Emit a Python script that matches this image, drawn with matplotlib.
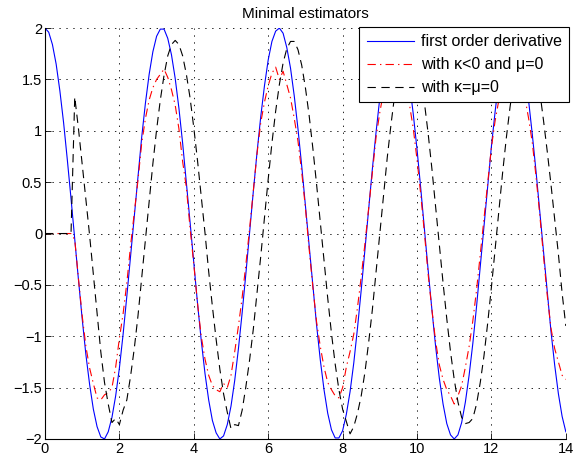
import numpy as np
import matplotlib
matplotlib.use("Agg")
import matplotlib.pyplot as plt

plt.rcParams['font.family'] = ['Liberation Sans', 'DejaVu Sans']
plt.rcParams['lines.scale_dashes'] = False

# time axis, 0..14 every 0.1
t = np.linspace(0, 14, 141)

# first order derivative (blue)
deriv = [2.00, 1.96, 1.84, 1.65, 1.39, 1.08, 0.72, 0.34, -0.06, -0.45, -0.83, -1.18, -1.47, -1.71, -1.88, -1.98,
         -2.00, -1.93, -1.79, -1.58, -1.31, -0.98, -0.61, -0.22, 0.18, 0.57, 0.94, 1.27, 1.55, 1.77, 1.92, 1.99,
         1.99, 1.90, 1.74, 1.51, 1.22, 0.88, 0.50, 0.11, -0.29, -0.68, -1.04, -1.36, -1.62, -1.82, -1.94, -2.00,
         -1.97, -1.86, -1.68, -1.43, -1.12, -0.77, -0.39, 0.01, 0.41, 0.79, 1.14, 1.44, 1.69, 1.87, 1.97, 2.00,
         1.95, 1.81, 1.61, 1.34, 1.02, 0.66, 0.27, -0.13, -0.52, -0.89, -1.23, -1.52, -1.75, -1.91, -1.99, -1.99,
         -1.92, -1.76, -1.54, -1.26, -0.92, -0.55, -0.16, 0.24, 0.63, 0.99, 1.32, 1.59, 1.80, 1.94, 2.00, 1.98,
         1.88, 1.70, 1.46, 1.16, 0.82, 0.44, 0.04, -0.36, -0.74, -1.10, -1.41, -1.66, -1.85, -1.96, -2.00, -1.96,
         -1.84, -1.64, -1.38, -1.07, -0.71, -0.32, 0.08, 0.47, 0.85, 1.19, 1.49, 1.72, 1.89, 1.98, 2.00, 1.93,
         1.79, 1.57, 1.29, 0.96, 0.60, 0.21, -0.19, -0.58, -0.95, -1.28, -1.56, -1.78, -1.93]

# estimator with kappa<0 and mu=0 (red)
est_kneg = [0, 0, 0, 0, 0, 0, 0, 0,
            -0.06, -0.44, -0.80, -1.10, -1.31, -1.46, -1.60, -1.62, -1.57, -1.55, -1.50, -1.30, -1.02, -0.78,
            -0.48, -0.12, 0.20, 0.52, 0.88, 1.12, 1.30, 1.42, 1.50, 1.55,
            1.60, 1.52, 1.40, 1.25, 1.02, 0.70, 0.45, 0.05, -0.30, -0.68, -1.00, -1.22, -1.38, -1.48, -1.52, -1.54,
            -1.46, -1.50, -1.38, -1.15, -0.90, -0.62, -0.30, 0.05, 0.42, 0.78, 1.08, 1.28, 1.44, 1.56, 1.62, 1.50,
            1.58, 1.45, 1.32, 1.12, 0.90, 0.60, 0.25, -0.15, -0.52, -0.86, -1.10, -1.30, -1.45, -1.52, -1.58, -1.60,
            -1.50, -1.30, -1.15, -0.98, -0.72, -0.42, -0.10, 0.25, 0.60, 0.94, 1.18, 1.38, 1.50, 1.57, 1.60, 1.55,
            1.54, 1.42, 1.25, 1.02, 0.72, 0.38, 0.00, -0.40, -0.74, -1.05, -1.28, -1.42, -1.52, -1.58, -1.66, -1.58,
            -1.48, -1.30, -1.10, -0.85, -0.55, -0.20, 0.15, 0.50, 0.84, 1.10, 1.30, 1.45, 1.55, 1.60, 1.58, 1.55,
            1.48, 1.32, 1.12, 0.88, 0.55, 0.18, -0.22, -0.60, -0.92, -1.12, -1.25, -1.38, -1.42]

# estimator with kappa=mu=0 (black)
est_k0 = [0, 0, 0, 0, 0, 0, 0, 0,
          1.33, 1.02, 0.68, 0.33, -0.02, -0.40, -0.78, -1.15, -1.45, -1.66, -1.84, -1.80, -1.86, -1.72,
          -1.62, -1.39, -1.12, -0.80, -0.43, -0.06, 0.32, 0.68, 1.01, 1.30,
          1.54, 1.73, 1.84, 1.88, 1.84, 1.73, 1.55, 1.32, 1.03, 0.71, 0.36, 0.01, -0.37, -0.71, -1.03, -1.32,
          -1.56, -1.74, -1.90, -1.86, -1.87, -1.72, -1.49, -1.23, -0.93, -0.58, -0.22, 0.16, 0.53, 0.88, 1.19, 1.45,
          1.66, 1.80, 1.87, 1.87, 1.79, 1.64, 1.42, 1.15, 0.83, 0.48, 0.11, -0.27, -0.63, -0.97, -1.27, -1.52,
          -1.71, -1.83, -1.95, -1.88, -1.75, -1.58, -1.35, -1.06, -0.74, -0.37, 0.00, 0.38, 0.74, 1.06, 1.35, 1.58,
          1.75, 1.85, 1.88, 1.83, 1.71, 1.52, 1.27, 0.97, 0.63, 0.26, -0.11, -0.48, -0.83, -1.15, -1.42, -1.64,
          -1.79, -1.85, -1.84, -1.80, -1.66, -1.45, -1.19, -0.87, -0.52, -0.15, 0.22, 0.59, 0.93, 1.23, 1.49, 1.69,
          1.82, 1.88, 1.86, 1.77, 1.61, 1.38, 1.10, 0.80, 0.48, 0.14, -0.20, -0.58, -0.90]

labels = ['first order derivative', 'with \u03ba<0 and \u03bc=0', 'with \u03ba=\u03bc=0']

fig = plt.figure(figsize=(5.73, 4.68), dpi=100)
ax = fig.add_axes([0.0785, 0.062, 0.909, 0.878])

ax.plot(t, deriv, color='blue', lw=0.8, label=labels[0])
ax.plot(t, est_kneg, color='red', lw=0.8, dashes=(6, 3, 1, 3), label=labels[1])
ax.plot(t, est_k0, color='black', lw=0.8, dashes=(6, 4), label=labels[2])

ax.set_xlim(0, 14)
ax.set_ylim(-2, 2)
ax.set_xticks(range(0, 15, 2))
ax.set_yticks([-2, -1.5, -1, -0.5, 0, 0.5, 1, 1.5, 2])
ax.set_yticklabels(['\u22122', '\u22121.5', '\u22121', '\u22120.5', '0', '0.5', '1', '1.5', '2'])
ax.tick_params(direction='in', length=4, width=0.6, labelsize=10.5, pad=2)
ax.grid(True, color='black', linestyle=(0, (1, 4)), linewidth=0.6)
ax.spines['top'].set_visible(False)
ax.spines['right'].set_visible(False)
ax.spines['left'].set_linewidth(0.8)
ax.spines['bottom'].set_linewidth(0.8)

ax.set_title('Minimal estimators', fontsize=11, pad=7)

leg = ax.legend(loc='upper right', bbox_to_anchor=(569 / 573, 1 - 27 / 468),
                bbox_transform=fig.transFigure, fontsize=11.5, fancybox=False,
                framealpha=1, edgecolor='black', handlelength=3.0,
                borderaxespad=0, labelspacing=0.5, borderpad=0.45, handletextpad=0.4)
leg.get_frame().set_linewidth(0.8)

plt.savefig('out.png', dpi=100)
